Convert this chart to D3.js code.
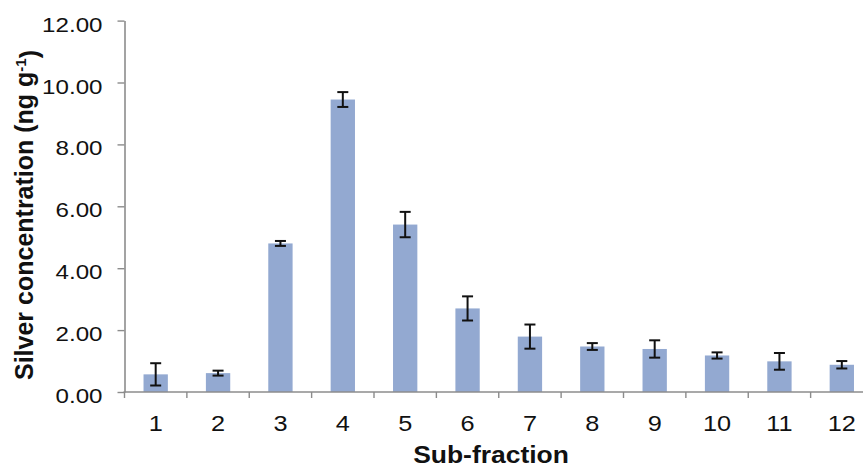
<!DOCTYPE html>
<html>
<head>
<meta charset="utf-8">
<script src="https://cdn.jsdelivr.net/npm/d3@7"></script>
<style>
  html, body { margin: 0; padding: 0; background: #fff; }
  svg { display: block; }
  text { font-family: "Liberation Sans", Arial, Helvetica, sans-serif; fill: #111; }
</style>
</head>
<body>
<svg id="chart" width="863" height="468"></svg>
<script>
// Silver concentration per sub-fraction, with error bar half-widths
const subFractions = ["1", "2", "3", "4", "5", "6", "7", "8", "9", "10", "11", "12"];
const concentration = [0.57, 0.61, 4.80, 9.45, 5.41, 2.70, 1.79, 1.47, 1.39, 1.18, 0.99, 0.88];
const errorHalf = [0.36, 0.08, 0.08, 0.24, 0.41, 0.39, 0.39, 0.11, 0.28, 0.10, 0.27, 0.12];
const yTicks = [0, 2, 4, 6, 8, 10, 12];

const data = subFractions.map((k, i) => ({ k, v: concentration[i], e: errorHalf[i] }));

const svg = d3.select("#chart");
const plotLeft = 124.5, plotRight = 873, plotTop = 20.6, plotBottom = 392;
const stretch = 1.15;
const axisColor = "#8c8c8c";

const x = d3.scaleBand()
  .domain(subFractions)
  .range([plotLeft, plotRight])
  .paddingInner(0.61)
  .paddingOuter(0.305);

const y = d3.scaleLinear().domain([0, 12]).range([plotBottom, plotTop]);

// bars
svg.append("g").selectAll("rect")
  .data(data)
  .join("rect")
  .attr("x", d => x(d.k))
  .attr("width", x.bandwidth())
  .attr("y", d => y(d.v))
  .attr("height", d => y(0) - y(d.v))
  .attr("fill", "#93a9d1");

// y axis
const yAxis = svg.append("g")
  .attr("transform", `translate(${plotLeft},0)`)
  .call(d3.axisLeft(y).tickValues(yTicks).tickSize(7).tickSizeOuter(0)
    .tickFormat(d => d.toFixed(2)));
yAxis.select(".domain").attr("stroke", axisColor).attr("stroke-width", 1.6);
yAxis.selectAll(".tick line").attr("stroke", axisColor).attr("stroke-width", 1.4);
yAxis.selectAll(".tick text")
  .attr("x", 0).attr("dy", null)
  .attr("transform", `translate(-22,10.5) scale(${stretch},1)`)
  .attr("text-anchor", "end")
  .style("font-size", "21px")
  .attr("fill", "#111");

// x axis: baseline, boundary ticks, category labels
const step = x.step();
const boundaries = d3.range(subFractions.length + 1).map(i => plotLeft + i * step);
const xAxis = svg.append("g").attr("transform", `translate(0,${plotBottom})`);
xAxis.append("line")
  .attr("x1", plotLeft - 1).attr("x2", plotRight)
  .attr("stroke", axisColor).attr("stroke-width", 1.6);
xAxis.selectAll("line.tk")
  .data(boundaries)
  .join("line")
  .attr("class", "tk")
  .attr("x1", d => d).attr("x2", d => d)
  .attr("y1", 0).attr("y2", 6)
  .attr("stroke", axisColor).attr("stroke-width", 1.4);
xAxis.selectAll("text.lbl")
  .data(subFractions)
  .join("text")
  .attr("class", "lbl")
  .attr("transform", d => `translate(${x(d) + x.bandwidth() / 2},39) scale(${stretch},1)`)
  .attr("text-anchor", "middle")
  .style("font-size", "22px")
  .text(d => d);

// error bars
const capHalf = 5.5;
const err = svg.append("g")
  .attr("stroke", "#111")
  .attr("stroke-width", 2);
data.forEach(d => {
  const cx = x(d.k) + x.bandwidth() / 2;
  const y1 = y(d.v + d.e), y0 = y(d.v - d.e);
  err.append("line").attr("x1", cx).attr("x2", cx).attr("y1", y1).attr("y2", y0);
  err.append("line").attr("x1", cx - capHalf).attr("x2", cx + capHalf).attr("y1", y1).attr("y2", y1);
  err.append("line").attr("x1", cx - capHalf).attr("x2", cx + capHalf).attr("y1", y0).attr("y2", y0);
});

// axis titles
svg.append("text")
  .attr("transform", `translate(491,463) scale(${stretch},1)`)
  .attr("text-anchor", "middle")
  .style("font-size", "23px")
  .style("font-weight", "bold")
  .text("Sub-fraction");

const yTitle = svg.append("text")
  .attr("transform", `translate(33,215) rotate(-90)`)
  .attr("text-anchor", "middle")
  .style("font-size", "25px")
  .style("font-weight", "bold");
yTitle.append("tspan").text("Silver concentration (ng g");
yTitle.append("tspan").attr("dy", "-0.5em").style("font-size", "15px").text("-1");
yTitle.append("tspan").attr("dy", "0.5em").text(")");
</script>
</body>
</html>
